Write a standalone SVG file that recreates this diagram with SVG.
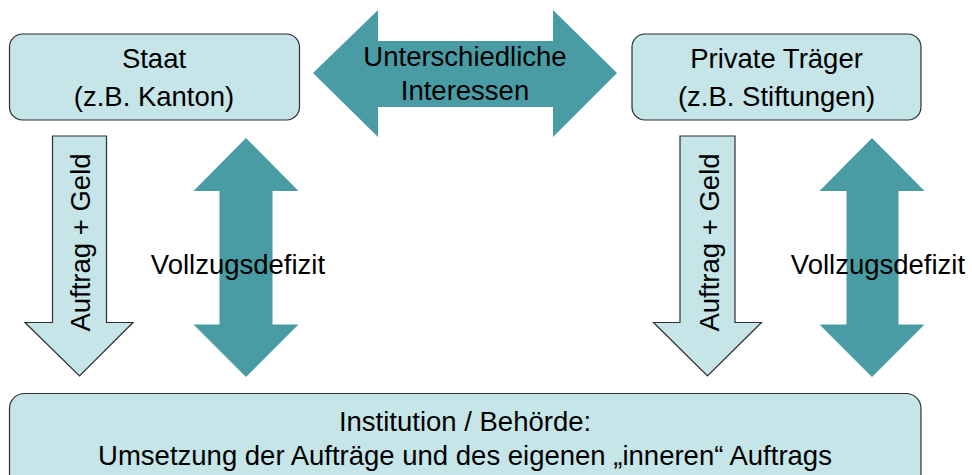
<svg xmlns="http://www.w3.org/2000/svg" width="972" height="475" viewBox="0 0 972 475">
<style>
.box{fill:#c5e5e8;stroke:#2e2e2e;stroke-width:1.2}
.light{fill:#c5e5e8;stroke:#2e2e2e;stroke-width:1.2;stroke-linejoin:miter}
.teal{fill:#4a9ca4;stroke:none}
text{font-family:"Liberation Sans",Arial,sans-serif;font-size:27.5px;fill:#000;text-anchor:middle}
</style>
<rect width="972" height="475" fill="#ffffff"/>
<g id="staat">
<rect class="box" x="9.5" y="34" width="290" height="86" rx="13"/>
<text x="154" y="68">Staat</text>
<text x="154" y="106">(z.B. Kanton)</text>
</g>
<g id="private">
<rect class="box" x="632" y="34" width="289" height="86" rx="13"/>
<text x="776.5" y="68">Private Träger</text>
<text x="776.5" y="106">(z.B. Stiftungen)</text>
</g>
<g id="institution">
<rect class="box" x="9.5" y="393.5" width="911.5" height="110" rx="15"/>
<text x="465" y="431">Institution / Behörde:</text>
<text x="465" y="465">Umsetzung der Aufträge und des eigenen „inneren“ Auftrags</text>
</g>
<g id="connectors">
<g id="interessen">
<polygon class="teal" points="313,73 378,10 378,41 553,41 553,10 617,73 553,137 553,107 378,107 378,137"/>
<text x="465" y="66">Unterschiedliche</text>
<text x="465" y="100">Interessen</text>
</g>
<g id="auftrag-links">
<polygon class="light" points="52.5,136 106.5,136 106.5,322.5 133,322.5 79.5,376 25,322.5 52.5,322.5"/>
<text transform="translate(90,242.5) rotate(-90)">Auftrag + Geld</text>
</g>
<g id="vollzug-links">
<polygon class="teal" points="246,138 298.5,191 272.5,191 272.5,324.5 298.5,324.5 246,377 193.5,324.5 219.5,324.5 219.5,191 193.5,191"/>
<text x="238" y="274">Vollzugsdefizit</text>
</g>
<g id="auftrag-rechts">
<polygon class="light" points="680,136 735,136 735,322.5 761.5,322.5 707.5,376 653.5,322.5 680,322.5"/>
<text transform="translate(718.5,242.5) rotate(-90)">Auftrag + Geld</text>
</g>
<g id="vollzug-rechts">
<polygon class="teal" points="872,138 924.5,191 898.5,191 898.5,324.5 924.5,324.5 872,377 819.5,324.5 846.5,324.5 846.5,191 819.5,191"/>
<text x="878" y="274">Vollzugsdefizit</text>
</g>
</g>
</svg>
